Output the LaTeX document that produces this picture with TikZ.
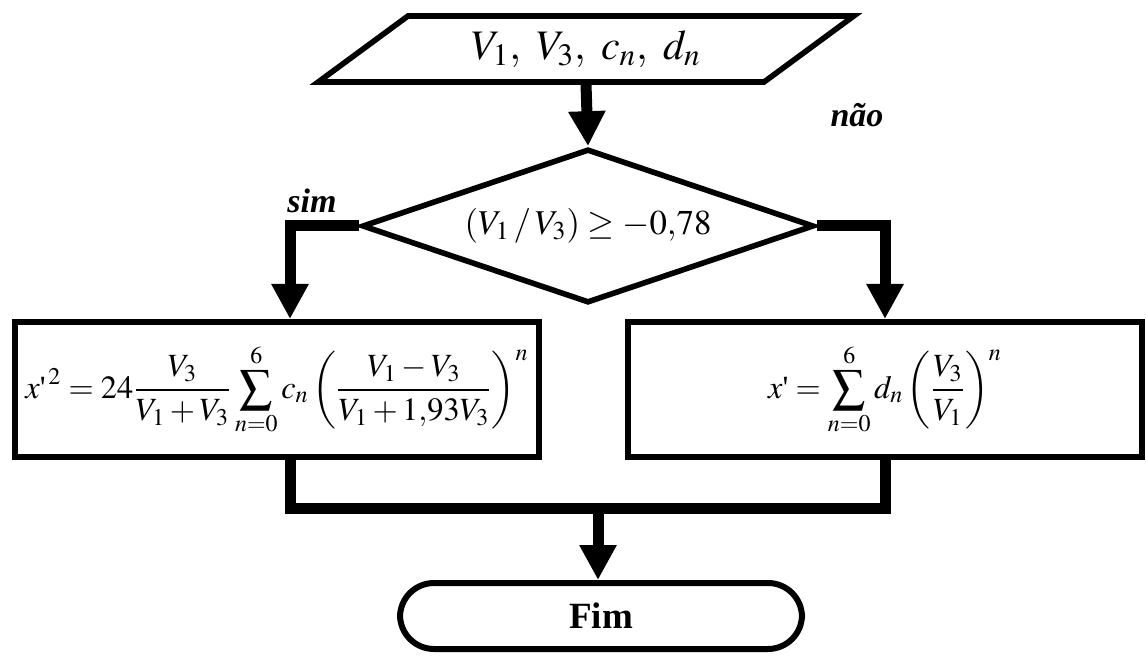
\documentclass[tikz,border=0pt]{standalone}
\usepackage{mathptmx}
\usepackage{fontspec}
\setmainfont{Liberation Serif}
\usepackage{tikz}
\usetikzlibrary{arrows.meta,positioning,calc,shapes.geometric}
\newcommand{\xprime}{x\mbox{\textquotesingle}}

\begin{document}
\begin{tikzpicture}[x=0.5pt,y=-0.5pt,>={Triangle[width=17.5pt,length=17.5pt]},every node/.style={font=\fontsize{16.2}{20}\selectfont}]
\tikzset{io/.style={draw,line width=2.8pt,trapezium,trapezium left angle=32.7,trapezium right angle=147.3,trapezium stretches=true,minimum width=268pt,minimum height=33pt,inner sep=0pt,font=\fontsize{21}{25}\selectfont},dec/.style={draw,line width=2.8pt,diamond,aspect=2.9,minimum width=226pt,minimum height=77pt,inner sep=0pt,font=\fontsize{17.4}{21}\selectfont},proc/.style={draw,line width=3pt,rectangle,minimum height=67.5pt,inner sep=0pt},term/.style={draw,line width=3pt,rounded corners=17pt,minimum width=201pt,minimum height=33pt,font=\fontsize{18.5}{22}\selectfont\bfseries},flow/.style={->,line width=5.5pt},bus/.style={line width=5.5pt},answer/.style={font=\fontsize{17}{20}\selectfont\bfseries\itshape}}
\useasboundingbox (0,0) rectangle (1146,657);
\node[io] (input) at (586,49) {$V_1,\ V_3,\ c_n,\ d_n$};
\node[dec] (cond) at (588,226) {$(V_1\,/\,V_3)\geq -0{,}78$};
\node[proc,minimum width=262pt] (lbox) at (277,389.5) {$\displaystyle \xprime^{\,2}=24\frac{V_3}{V_1+V_3}\sum_{n=0}^{6}c_n\left(\frac{V_1-V_3}{V_1+1{,}93V_3}\right)^{n}$};
\node[proc,minimum width=257pt] (rbox) at (885,389.5) {$\displaystyle \xprime=\sum_{n=0}^{6}d_n\left(\frac{V_3}{V_1}\right)^{n}$};
\node[term] (fim) at (601,616) {Fim};
\node[answer] (yes) at (312,201) {sim};
\node[answer] (no) at (857,115) {não};
\coordinate (merge) at (598,509);
\draw[flow] (input.south) -- (cond.north);
\draw[flow] (cond.west) -| ([xshift=6.5pt]lbox.north);
\draw[flow] (cond.east) -| (rbox.north);
\draw[bus] ([xshift=6.5pt]lbox.south) |- (merge) -| (rbox.south);
\draw[flow] (merge) -- (merge |- fim.north);
\end{tikzpicture}
\end{document}
